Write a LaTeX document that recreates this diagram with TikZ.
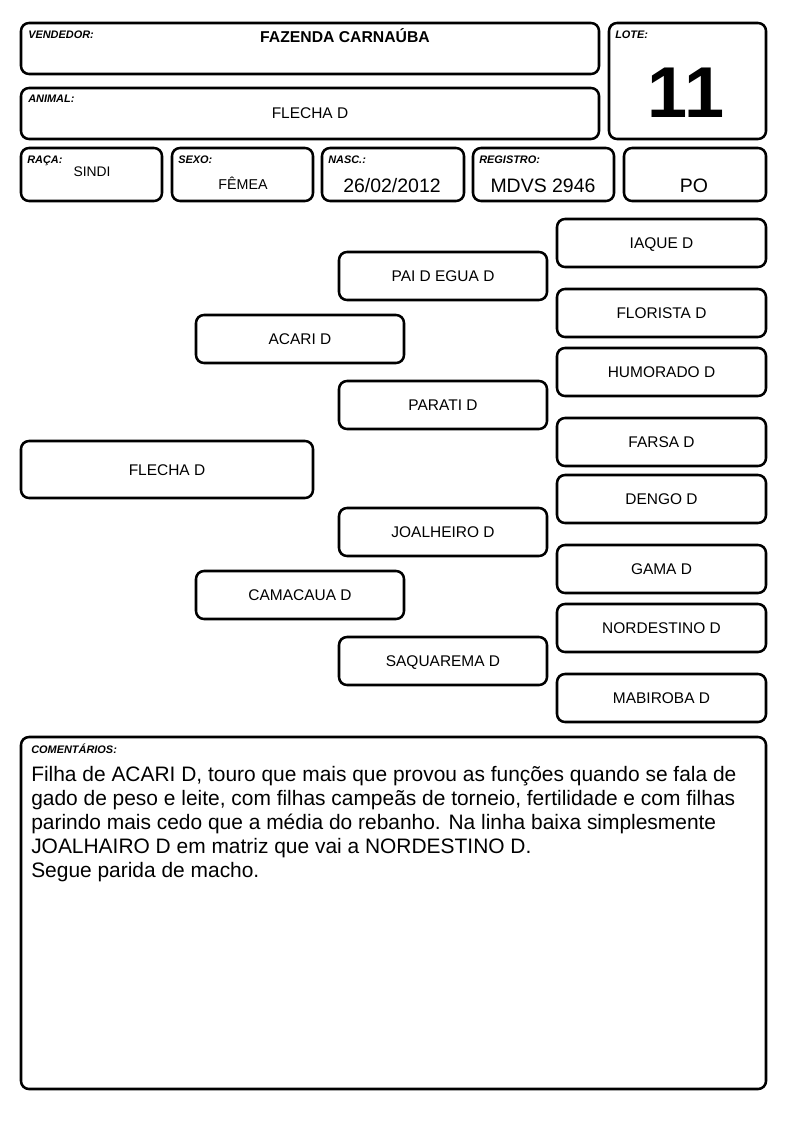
\documentclass[tikz,border=0pt]{standalone}
\usepackage{fontspec}
\setmainfont{Liberation Sans}
\usetikzlibrary{positioning}

\begin{document}
\begin{tikzpicture}[x=0.75pt,y=-0.75pt]
  % some styles
  \tikzset{
    field/.style={
      rectangle,
      rounded corners=6pt,
      line width=1.9pt,
      inner sep=0mm,
      outer sep=0mm,
      black,
      draw
    }
  }
  \tikzset{tag/.style={font=\fontsize{8.2}{10}\selectfont\bfseries\itshape,anchor=north west,inner sep=0pt}}
  \tikzset{entry/.style={font=\fontsize{11.6}{14}\selectfont,inner sep=0pt,text height=8.3pt,text depth=0pt}}
  \tikzset{bigentry/.style={font=\fontsize{14.6}{17}\selectfont,inner sep=0pt,text height=10.5pt,text depth=0pt}}

\useasboundingbox (0,0) rectangle (794,1123);

% header
\node[field,minimum width={578*0.75pt},minimum height={51*0.75pt}] (vendedor) at (310,48.5) {};
\node[tag] (vendedortag) at (28,31) {VENDEDOR:};
\node[entry,font=\fontsize{11.8}{14}\selectfont\bfseries] (vendedorval) at (345,37) {FAZENDA CARNAÚBA};

\node[field,minimum width={157*0.75pt},minimum height={116*0.75pt}] (lote) at (687.5,81) {};
\node[tag] (lotetag) at (615,31) {LOTE:};
\node[font=\fontsize{54}{62}\selectfont\bfseries,inner sep=0pt,text height=38.7pt,text depth=0pt] (loteval) at (686,92) {11};

\node[field,minimum width={578*0.75pt},minimum height={51*0.75pt}] (animal) at (310,113.5) {};
\node[tag] (animaltag) at (28,95) {ANIMAL:};
\node[entry] (animalval) at (310,113) {FLECHA D};

\foreach \name/\x/\w/\txt in {raca/91.5/141/RAÇA:,sexo/242.5/141/SEXO:,nasc/393/142/NASC.:,registro/543.5/141/REGISTRO:,po/695/142/}
  {
  \node[field,minimum width={\w*0.75pt},minimum height={53*0.75pt}] (\name) at (\x,174.5) {};
  \node[tag] (\name tag) at (\x-\w/2+6,156) {\txt};
  }
\node[entry,font=\fontsize{10.4}{12}\selectfont,text height=7.4pt] (racaval) at (92,172) {SINDI};
\node[entry,font=\fontsize{10.7}{12}\selectfont,text height=7.7pt] (sexoval) at (243,184) {FÊMEA};
\node[bigentry] (nascval) at (392,186) {26/02/2012};
\node[bigentry] (registroval) at (543,186) {MDVS 2946};
\node[bigentry] (poval) at (694,186) {PO};

% pedigree
\node[field,entry,minimum width={292*0.75pt},minimum height={57*0.75pt}] (flecha) at (167,469.5) {FLECHA D};
\foreach \name/\y/\txt in {acari/339/ACARI D,camacaua/595/CAMACAUA D}
  \node[field,entry,minimum width={208*0.75pt},minimum height={48*0.75pt}] (\name) at (300,\y) {\txt};
\foreach \name/\y/\txt in {paidegua/276/PAI D EGUA D,parati/405/PARATI D,joalheiro/532/JOALHEIRO D,saquarema/661/SAQUAREMA D}
  \node[field,entry,minimum width={208*0.75pt},minimum height={48*0.75pt}] (\name) at (443,\y) {\txt};
\foreach \name/\y/\txt in {iaque/243/IAQUE D,florista/313/FLORISTA D,humorado/372/HUMORADO D,farsa/442/FARSA D,
    dengo/499/DENGO D,gama/569/GAMA D,nordestino/628/NORDESTINO D,mabiroba/698/MABIROBA D}
  \node[field,entry,minimum width={209*0.75pt},minimum height={48*0.75pt}] (\name) at (661.5,\y) {\txt};

% comments
\node[field,minimum width={745*0.75pt},minimum height={352*0.75pt}] (comentarios) at (393.5,913) {};
\node[tag] (comentariostag) at (31,744) {COMENTÁRIOS:};
\node[font=\fontsize{15.7}{18}\selectfont,anchor=north west,inner sep=0pt,align=left] (comentariosval) at (31,766)
  {Filha de ACARI D, touro que mais que provou as funções quando se fala de\\
   gado de peso e leite, com filhas campeãs de torneio, fertilidade e com filhas\\
   parindo mais cedo que a média do rebanho. Na linha baixa simplesmente\\
   JOALHAIRO D em matriz que vai a NORDESTINO D.\\
   Segue parida de macho.};

\end{tikzpicture}
\end{document}
